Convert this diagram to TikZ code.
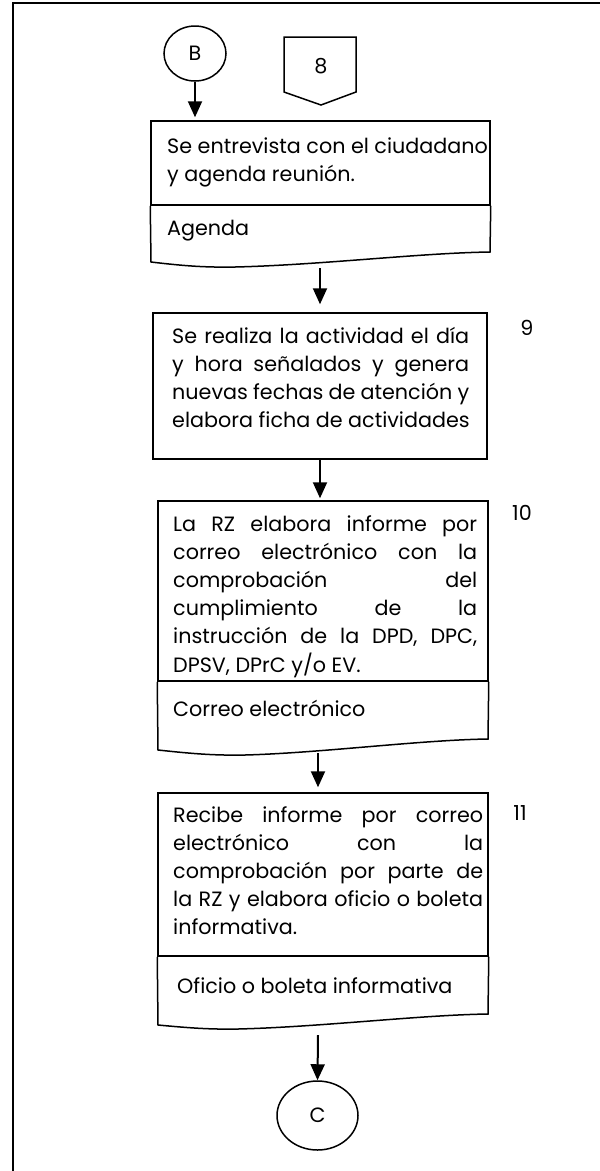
\documentclass[tikz,border=0pt]{standalone}
\usepackage{fontspec}
\setmainfont{Poppins}
\usetikzlibrary{arrows.meta,shapes.geometric}
\newlength\LW
\newcommand\jline[1]{\hbox to \LW{#1}}
\newcommand\nline[1]{\hbox{#1}}
\tikzset{
  every picture/.style={x=1pt,y=-1pt},
  txt/.style={font=\fontsize{20.7}{28.2}\selectfont, inner sep=0pt, anchor=base west},
  lbl/.style={font=\fontsize{20.7}{28.2}\selectfont, inner sep=0pt},
  procbox/.style={draw, line width=1.5pt, inner sep=0pt},
  docline/.style={draw, line width=1.5pt, line join=miter},
  conn/.style={ellipse, draw, line width=1.5pt, inner sep=0pt, font=\fontsize{20.7}{28}\selectfont},
  arr/.style={line width=2pt, -{Triangle[width=14pt,length=16pt]}},
  frame/.style={line width=2pt}
}
\begin{document}
\begin{tikzpicture}
\useasboundingbox (0,0) rectangle (600,1171);
\draw[frame] (13,1171) -- (13,3) -- (600,3);

% connectors
\node[conn, minimum width=62pt, minimum height=55pt] (B) at (195,53.5) {B};
\node[conn, minimum width=81pt, minimum height=69pt] (C) at (317.5,1115.5) {C};

% off-page 8
\draw[docline] (284,37) -- (356,37) -- (356,92) -- (321,105) -- (284,92) -- cycle;
\node[lbl] (n8) at (321,66) {8};

% box 1
\node[procbox, minimum width=339pt, minimum height=84pt] (p1) at (320.5,163) {};
\node[txt] (t1) at (167,153) {\vtop{\nline{Se entrevista con el ciudadano}\nline{y agenda reunión.}}};
\draw[docline] (p1.south west) -- (151,262) .. controls (185,266) and (205,267.5) .. (235,267) .. controls (320,265) and (420,253) .. (490,252) -- (p1.south east);
\node[txt] (d1) at (167,235) {Agenda};
\coordinate (a1) at (320,268);

% box 2
\node[procbox, minimum width=334pt, minimum height=146pt] (p2) at (320,386) {};
\node[txt] (t2) at (172,343) {\setlength\LW{297pt}\vtop{%
\jline{Se realiza la actividad el día}
\jline{y hora señalados y genera}
\jline{nuevas fechas de atención y}
\nline{elabora ficha de actividades}}};
\node[lbl] (k9) at (527,328) {9};

% box 3
\node[procbox, minimum width=330pt, minimum height=180pt] (p3) at (323,591) {};
\node[txt] (t3) at (173,531) {\setlength\LW{304pt}\vtop{%
\jline{La RZ elabora informe por}
\jline{correo electrónico con la}
\jline{comprobación del}
\jline{cumplimiento de la}
\jline{instrucción de la DPD, DPC,}
\nline{DPSV, DPrC y/o EV.}}};
\draw[docline] (p3.south west) -- (158,750) .. controls (195,754) and (215,755.5) .. (245,755) .. controls (320,753) and (420,740) .. (488,739) -- (p3.south east);
\node[txt] (d3) at (173,716) {Correo electrónico};
\node[lbl] (k10) at (522,513) {10};
\coordinate (a3) at (318,753);

% box 4
\node[procbox, minimum width=330pt, minimum height=163pt] (p4) at (323,874.5) {};
\node[txt] (t4) at (173,822) {\setlength\LW{310pt}\vtop{%
\jline{Recibe informe por correo}
\jline{electrónico con la}
\jline{comprobación por parte de}
\jline{la RZ y elabora oficio o boleta}
\nline{informativa.}}};
\draw[docline] (p4.south west) -- (158,1025) .. controls (190,1028) and (210,1029.5) .. (238,1029) .. controls (320,1027) and (420,1015) .. (488,1014) -- (p4.south east);
\node[txt] (d4) at (177,993) {Oficio o boleta informativa};
\node[lbl] (k11) at (520,813) {11};
\coordinate (a4) at (318,1035);

% arrows
\draw[arr, shorten >=3pt] (B.south) -- (B.south |- p1.north);
\draw[arr, shorten >=8pt] (a1) -- (a1 |- p2.north);
\draw[arr, shorten >=2pt] (p2.south) -- (p2.south |- p3.north);
\draw[arr, shorten >=5pt] (a3) -- (a3 |- p4.north);
\draw[arr] (a4) -- (C.north);
\end{tikzpicture}
\end{document}
